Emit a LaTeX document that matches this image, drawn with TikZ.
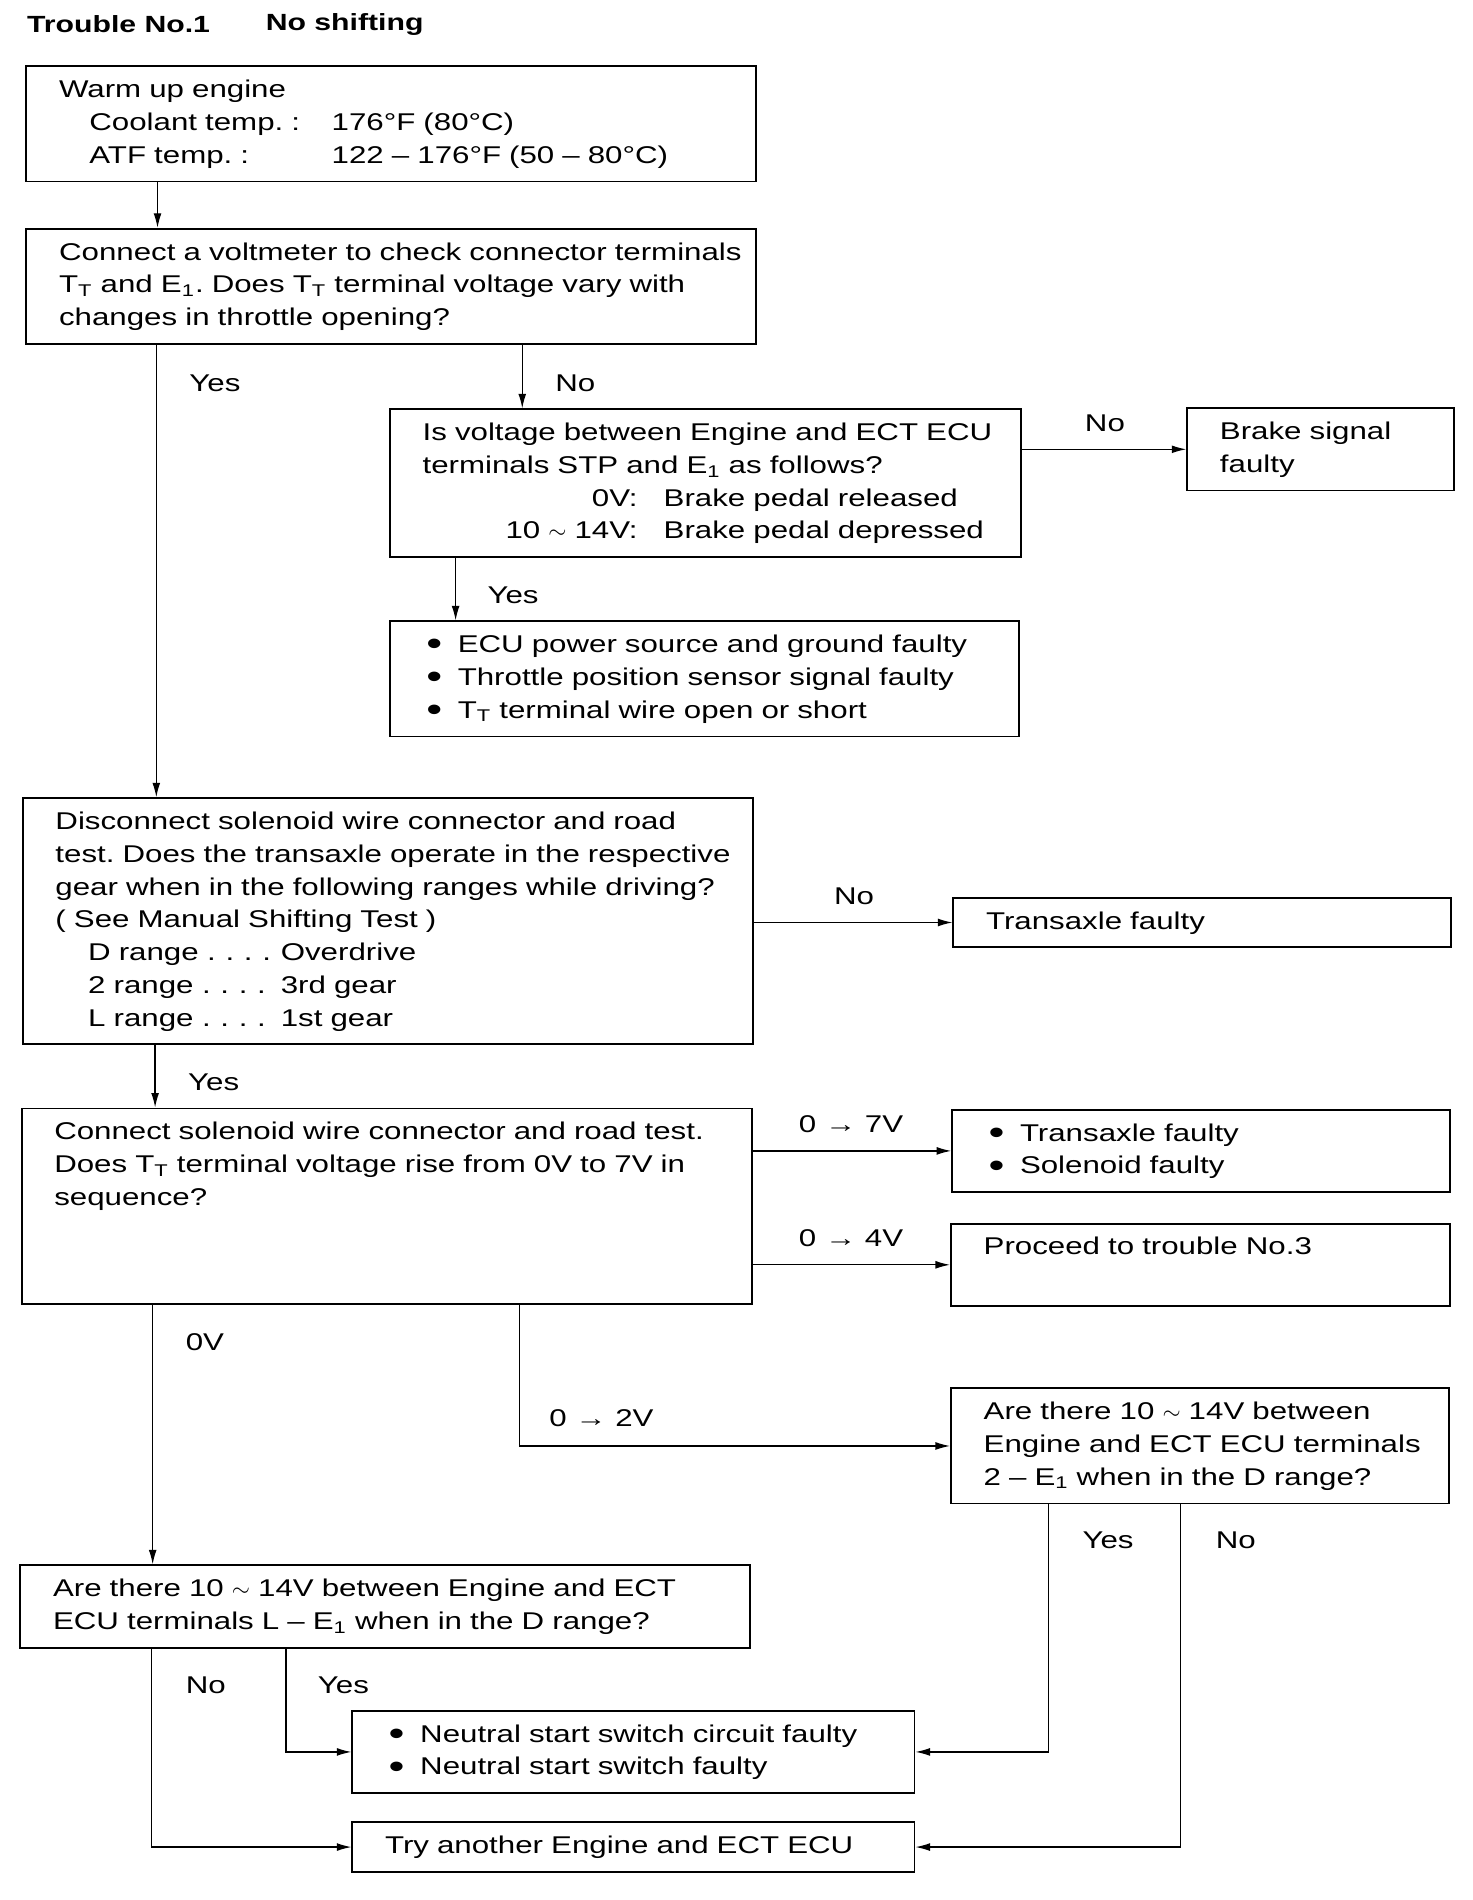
\documentclass[tikz,border=0pt]{standalone}
\usepackage{graphicx}
\usepackage{fontspec}
\setmainfont{Liberation Sans}[FakeStretch=1.29]
\usetikzlibrary{arrows.meta}
\frenchspacing
\newcommand{\termTT}{T\textsubscript{T}}
\newcommand{\termE}{E\textsubscript{1}}
\newcommand{\blt}{\makebox[0.58cm][l]{\hspace{0.06cm}\raisebox{-0.25ex}{\scalebox{1.45}{\textbullet}}}}
\newcommand{\rdots}{\hspace{0.14cm}.\hspace{0.16cm}.\hspace{0.16cm}.\hspace{0.16cm}.}
\tikzset{
  box/.style={
    rectangle,
    draw=black,
    line width=0.9pt,
    anchor=north west,
    align=left,
    inner xsep=0.04cm,
    inner ysep=0.14cm,
    font=\fontsize{11.38}{15.37}\selectfont,
    execute at begin node={\leftskip=0.5cm\relax\strut},
    execute at end node={\strut}
  },
  stepbox/.style={box, text width=#1-0.08cm},
  lbl/.style={anchor=west, inner sep=0pt, font=\fontsize{11.38}{15.37}\selectfont},
  link/.style={-{Latex[length=2.4mm,width=1.3mm]}, line width=0.6pt}
}

\begin{document}
\begin{tikzpicture}[x=0.02cm, y=-0.02cm]
\useasboundingbox (0,0) rectangle (1215,1568);
\node[lbl, font=\fontsize{11}{15.37}\selectfont\bfseries] (title) at (22,20) {Trouble No.1};
\node[lbl, font=\fontsize{11}{15.37}\selectfont\bfseries] (subtitle) at (219,20) {No shifting};

\node[stepbox=12.04cm] (warmup) at (21,54) {Warm up engine\\
  \hspace*{0.5cm}\makebox[4cm][l]{Coolant temp. :}176°F (80°C)\\
  \hspace*{0.5cm}\makebox[4cm][l]{ATF temp. :}122 – 176°F (50 – 80°C)};
\node[stepbox=12.04cm] (voltcheck) at (21,188) {Connect a voltmeter to check connector terminals\\
  \termTT{} and \termE. Does \termTT{} terminal voltage vary with\\
  changes in throttle opening?};
\node[stepbox=10.42cm] (stpcheck) at (321,337) {Is voltage between Engine and ECT ECU\\
  terminals STP and \termE{} as follows?\\
  \makebox[3.55cm][r]{0V:}\hspace{0.43cm}Brake pedal released\\
  \makebox[3.55cm][r]{10 $\sim$ 14V:}\hspace{0.43cm}Brake pedal depressed};
\node[stepbox=4.4cm] (brakesig) at (979,336) {Brake signal\\faulty};
\node[stepbox=10.38cm] (ecufault) at (321,512) {\blt ECU power source and ground faulty\\
  \blt Throttle position sensor signal faulty\\
  \blt \termTT{} terminal wire open or short};
\node[stepbox=12.06cm] (solenoidtest) at (18,658) {Disconnect solenoid wire connector and road\\
  test. Does the transaxle operate in the respective\\
  gear when in the following ranges while driving?\\
  ( See Manual Shifting Test )\\
  \hspace*{0.54cm}\makebox[3.18cm][l]{D range\rdots}Overdrive\\
  \hspace*{0.54cm}\makebox[3.18cm][l]{2 range\rdots}3rd gear\\
  \hspace*{0.54cm}\makebox[3.18cm][l]{L range\rdots}1st gear};
\node[stepbox=8.22cm] (transfault) at (786,740) {Transaxle faulty};
\node[stepbox=12.06cm] (ttcheck) at (17,914) {Connect solenoid wire connector and road test.\\
  Does \termTT{} terminal voltage rise from 0V to 7V in\\
  sequence?\\[0.78cm]~};
\node[stepbox=8.22cm] (solfault) at (785,915) {\blt Transaxle faulty\\\blt Solenoid faulty};
\node[stepbox=8.24cm] (trouble3) at (784,1009) {Proceed to trouble No.3\\~};
\node[stepbox=8.22cm] (twocheck) at (784,1145) {Are there 10 $\sim$ 14V between\\
  Engine and ECT ECU terminals\\
  2 – \termE{} when in the D range?};
\node[stepbox=12.04cm] (lcheck) at (16,1291) {Are there 10 $\sim$ 14V between Engine and ECT\\
  ECU terminals L – \termE{} when in the D range?};
\node[stepbox=9.28cm] (nsswitch) at (290,1411) {\blt Neutral start switch circuit faulty\\
  \blt Neutral start switch faulty};
\node[stepbox=9.28cm] (tryecu) at (290,1503) {Try another Engine and ECT ECU};

% branch labels
\node[lbl] (yes1) at (156,316) {Yes};
\node[lbl] (no1) at (458,316) {No};
\node[lbl] (no2) at (895,349) {No};
\node[lbl] (yes2) at (402,491) {Yes};
\node[lbl] (no3) at (688,740) {No};
\node[lbl] (yes3) at (155,893) {Yes};
\node[lbl] (up7) at (659,928) {0 → 7V};
\node[lbl] (up4) at (659,1022) {0 → 4V};
\node[lbl] (zero) at (153,1108) {0V};
\node[lbl] (up2) at (453,1170) {0 → 2V};
\node[lbl] (yes4) at (893,1271) {Yes};
\node[lbl] (no4) at (1003,1271) {No};
\node[lbl] (no5) at (153,1391) {No};
\node[lbl] (yes5) at (262,1391) {Yes};

\draw[link] (warmup.south -| 130,0) -- (voltcheck.north -| 130,0);
\draw[link] (voltcheck.south -| 129,0) -- (solenoidtest.north -| 129,0);
\draw[link] (voltcheck.south -| 431,0) -- (stpcheck.north -| 431,0);
\draw[link] (stpcheck.east |- brakesig.west) -- (brakesig.west);
\draw[link] (stpcheck.south -| 376,0) -- (ecufault.north -| 376,0);
\draw[link] (solenoidtest.east |- transfault.west) -- (transfault.west);
\draw[link] (solenoidtest.south -| 128,0) -- (ttcheck.north -| 128,0);
\draw[link] (ttcheck.east |- solfault.west) -- (solfault.west);
\draw[link] (ttcheck.east |- trouble3.west) -- (trouble3.west);
\draw[link] (ttcheck.south -| 126,0) -- (lcheck.north -| 126,0);
\draw[link] (ttcheck.south -| 429,0) |- (twocheck.west);
\draw[link] (twocheck.south -| 865,0) |- (nsswitch.east);
\draw[link] (twocheck.south -| 974,0) |- (tryecu.east);
\draw[link] (lcheck.south -| 125,0) |- (tryecu.west);
\draw[link] (lcheck.south -| 236,0) |- (nsswitch.west);
\end{tikzpicture}
\end{document}
